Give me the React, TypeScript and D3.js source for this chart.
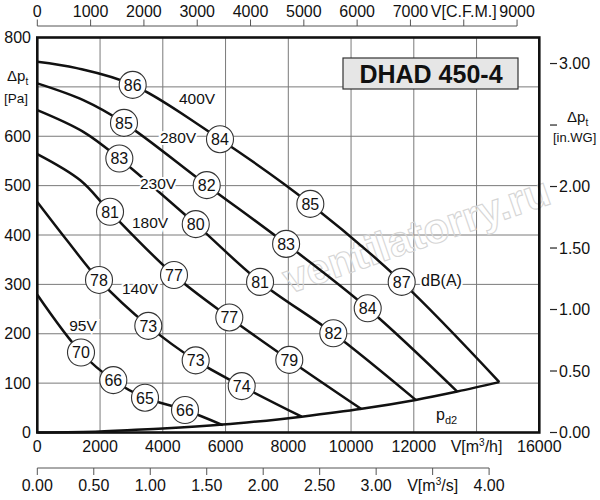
import React from 'react';
import * as d3 from 'd3';

// ---- data ----
const PA_TICKS = [0, 100, 200, 300, 400, 500, 600, 700, 800];
const M3H_TICKS = [0, 2000, 4000, 6000, 8000, 10000, 12000, 14000, 16000];
const CFM_TICKS = [0, 1000, 2000, 3000, 4000, 5000, 6000, 7000, 8000, 9000];
const M3S_TICKS = [0, 0.5, 1, 1.5, 2, 2.5, 3, 3.5, 4];
const INWG_TICKS = [0, 0.5, 1, 1.5, 2, 2.5, 3];

const VOLTAGES = ['400V', '280V', '230V', '180V', '140V', '95V'];

const CURVE_400 = [[0, 751], [1256, 738], [3040, 704], [5823, 594], [8702, 463], [11614, 305], [14726, 102]];
const CURVE_280 = [[0, 707], [1467, 673], [2763, 627], [5400, 501], [7930, 382], [10531, 251.5], [13386, 82.6]];
const CURVE_230 = [[0, 653], [1467, 609], [2615, 555], [5050, 422], [7100, 305], [9435, 201], [12060, 66]];
const CURVE_180 = [[0, 564], [1370, 511], [2318, 447], [4357, 319], [6120, 233], [8032, 147], [10340, 47]];
const CURVE_140 = [[0, 467], [937, 390], [1967, 309], [3538, 216], [5048, 146], [6515, 94], [8427, 32]];
const CURVE_95 = [[0, 279], [1393, 162], [2423, 106], [3433, 70.5], [4708, 45.6], [5910, 15]];
const CURVE_PD2 = [[0, 0], [2000, 2], [3000, 5], [4000, 8], [5910, 16], [7735, 27], [8427, 32], [10340, 48], [12060, 66], [13386, 83], [14726, 102]];

const DB_400 = [[3040, 704, 86], [5823, 594, 84], [8702, 463, 85], [11614, 305, 87]];
const DB_280 = [[2763, 627, 85], [5400, 501, 82], [7930, 382, 83], [10531, 251.5, 84]];
const DB_230 = [[2615, 555, 83], [5050, 422, 80], [7100, 305, 81], [9435, 201, 82]];
const DB_180 = [[2318, 447, 81], [4357, 319, 77], [6120, 233, 77], [8032, 147, 79]];
const DB_140 = [[1967, 309, 78], [3538, 216, 73], [5048, 146, 73], [6515, 94, 74]];
const DB_95 = [[1393, 162, 70], [2423, 106, 66], [3433, 70.5, 65], [4708, 45.6, 66]];

const TITLE = 'DHAD 450-4';
const WATERMARK = 'ventilatorry.ru';
const PA_PER_INWG = 249.089;
const M3H_PER_CFM = 1.699011;

// ---- layout ----
const VOLT_LABEL_POS = [[197, 98], [178, 137], [158, 183], [150, 222], [140, 288], [83, 325]];

const FONT = '"Liberation Sans", Arial, Helvetica, sans-serif';

export default function App() {
  const left = 37.3, right = 539.3, top = 37.5, bottom = 432.5;
  const x = d3.scaleLinear().domain([0, 16000]).range([left, right]);
  const y = d3.scaleLinear().domain([0, 800]).range([bottom, top]);
  const xCfm = d3.scaleLinear().domain([0, 16000 / M3H_PER_CFM]).range([left, right]);
  const xM3s = d3.scaleLinear().domain([0, 16000 / 3600]).range([left, right]);
  const yWg = d3.scaleLinear().domain([0, 800 / PA_PER_INWG]).range([bottom, top]);

  const line = d3
    .line<number[]>()
    .x((d) => x(d[0]))
    .y((d) => y(d[1]))
    .curve(d3.curveCatmullRom.alpha(0.5));

  const curves = [CURVE_400, CURVE_280, CURVE_230, CURVE_180, CURVE_140, CURVE_95];
  const dbs = [DB_400, DB_280, DB_230, DB_180, DB_140, DB_95];

  const topAxisY = 26;
  const m3sAxisY = 468;

  return (
    <div style={{ position: 'absolute', left: 0, top: 0 }}>
      <svg width={600} height={500} style={{ display: 'block', background: '#fff' }} fontFamily={FONT}>
        <rect x={0} y={0} width={600} height={500} fill="#fff" />

        {/* grid */}
        {M3H_TICKS.slice(1, -1).map((t) => (
          <line key={'gx' + t} x1={x(t)} x2={x(t)} y1={top} y2={bottom} stroke="#7a7a7a" strokeWidth={1} />
        ))}
        {PA_TICKS.slice(1, -1).map((t) => (
          <line key={'gy' + t} x1={left} x2={right} y1={y(t)} y2={y(t)} stroke="#7a7a7a" strokeWidth={1} />
        ))}

        {/* watermark */}
        <text
          x={289}
          y={294}
          fontSize={42}
          fontWeight="bold"
          fill="none"
          stroke="#d6d6d6"
          strokeWidth={1.1}
          transform="rotate(-19 289 294)"
        >
          {WATERMARK}
        </text>

        {/* title box */}
        <rect x={343} y={58} width={175} height={31} fill="#e6e6e6" stroke="#333" strokeWidth={1.2} />
        <text x={431} y={83} fontSize={25} fontWeight="bold" textAnchor="middle" fill="#111">
          {TITLE}
        </text>

        {/* pd2 curve */}
        <path d={line(CURVE_PD2) || ''} fill="none" stroke="#111" strokeWidth={2.5} />

        {/* fan curves */}
        {curves.map((c, i) => (
          <path key={'c' + i} d={line(c) || ''} fill="none" stroke="#111" strokeWidth={2.5} />
        ))}

        {/* voltage labels */}
        {VOLTAGES.map((v, i) => (
          <text
            key={v}
            x={VOLT_LABEL_POS[i][0]}
            y={VOLT_LABEL_POS[i][1] + 5.5}
            fontSize={15.5}
            textAnchor="middle"
            fill="#111"
            stroke="#fff"
            strokeWidth={4}
            paintOrder="stroke"
          >
            {v}
          </text>
        ))}

        {/* dB circles */}
        {dbs.map((arr, i) =>
          arr.map((d, j) => (
            <g key={'db' + i + '-' + j} transform={`translate(${x(d[0])},${y(d[1])})`}>
              <circle r={13.5} fill="#fff" stroke="#333" strokeWidth={1.1} />
              <text y={5.8} fontSize={16} textAnchor="middle" fill="#111">
                {d[2]}
              </text>
            </g>
          ))
        )}

        <text x={421} y={285.5} fontSize={16} fill="#111" stroke="#fff" strokeWidth={4} paintOrder="stroke">
          dB(A)
        </text>

        <text x={436} y={420} fontSize={16} fill="#111">
          p<tspan fontSize={11} dy={4}>d2</tspan>
        </text>

        {/* frame */}
        <rect x={left} y={top} width={right - left} height={bottom - top} fill="none" stroke="#111" strokeWidth={2.6} />

        {/* left axis labels */}
        {PA_TICKS.filter((t) => t !== 700).map((t) => (
          <text key={'pl' + t} x={31} y={y(t) + 5.5} fontSize={16} textAnchor="end" fill="#111">
            {t}
          </text>
        ))}
        <text x={7} y={81} fontSize={15} fill="#111">
          Δp<tspan fontSize={10} dy={4}>t</tspan>
        </text>
        <text x={4} y={103} fontSize={13.5} fill="#111">
          [Pa]
        </text>

        {/* right axis */}
        {INWG_TICKS.map((t) => (
          <line key={'rt' + t} x1={550} x2={557} y1={yWg(t)} y2={yWg(t)} stroke="#222" strokeWidth={1.2} />
        ))}
        {INWG_TICKS.filter((t) => t !== 2.5).map((t) => (
          <text key={'rl' + t} x={559} y={yWg(t) + 5.5} fontSize={16} fill="#111">
            {t.toFixed(2)}
          </text>
        ))}
        <text x={567} y={122} fontSize={15} fill="#111">
          Δp<tspan fontSize={10} dy={4}>t</tspan>
        </text>
        <text x={553} y={142} fontSize={13} fill="#111">
          [in.WG]
        </text>

        {/* bottom m3/h labels */}
        {M3H_TICKS.map((t) =>
          t === 14000 ? (
            <text key={'bl' + t} x={x(t)} y={452} fontSize={16} textAnchor="middle" fill="#111">
              V[m<tspan fontSize={10} dy={-6}>3</tspan>
              <tspan dy={6}>/h]</tspan>
            </text>
          ) : (
            <text key={'bl' + t} x={x(t)} y={452} fontSize={16} textAnchor="middle" fill="#111">
              {t}
            </text>
          )
        )}

        {/* top CFM axis */}
        <line x1={xCfm(0)} x2={xCfm(9000)} y1={topAxisY} y2={topAxisY} stroke="#555" strokeWidth={1} />
        {CFM_TICKS.map((t) => (
          <g key={'ct' + t}>
            <line x1={xCfm(t)} x2={xCfm(t)} y1={topAxisY - 6.5} y2={topAxisY} stroke="#555" strokeWidth={1} />
            <text x={xCfm(t)} y={17} fontSize={16} textAnchor="middle" fill="#111">
              {t === 8000 ? 'V[C.F.M.]' : t}
            </text>
          </g>
        ))}

        {/* m3/s axis */}
        <line x1={xM3s(0)} x2={xM3s(4)} y1={m3sAxisY} y2={m3sAxisY} stroke="#555" strokeWidth={1} />
        {M3S_TICKS.map((t) => (
          <g key={'st' + t}>
            <line x1={xM3s(t)} x2={xM3s(t)} y1={m3sAxisY} y2={m3sAxisY + 7} stroke="#555" strokeWidth={1} />
            {t === 3.5 ? (
              <text x={xM3s(t)} y={490.5} fontSize={16} textAnchor="middle" fill="#111">
                V[m<tspan fontSize={10} dy={-6}>3</tspan>
                <tspan dy={6}>/s]</tspan>
              </text>
            ) : (
              <text x={xM3s(t)} y={490.5} fontSize={16} textAnchor="middle" fill="#111">
                {t.toFixed(2)}
              </text>
            )}
          </g>
        ))}
      </svg>
    </div>
  );
}
